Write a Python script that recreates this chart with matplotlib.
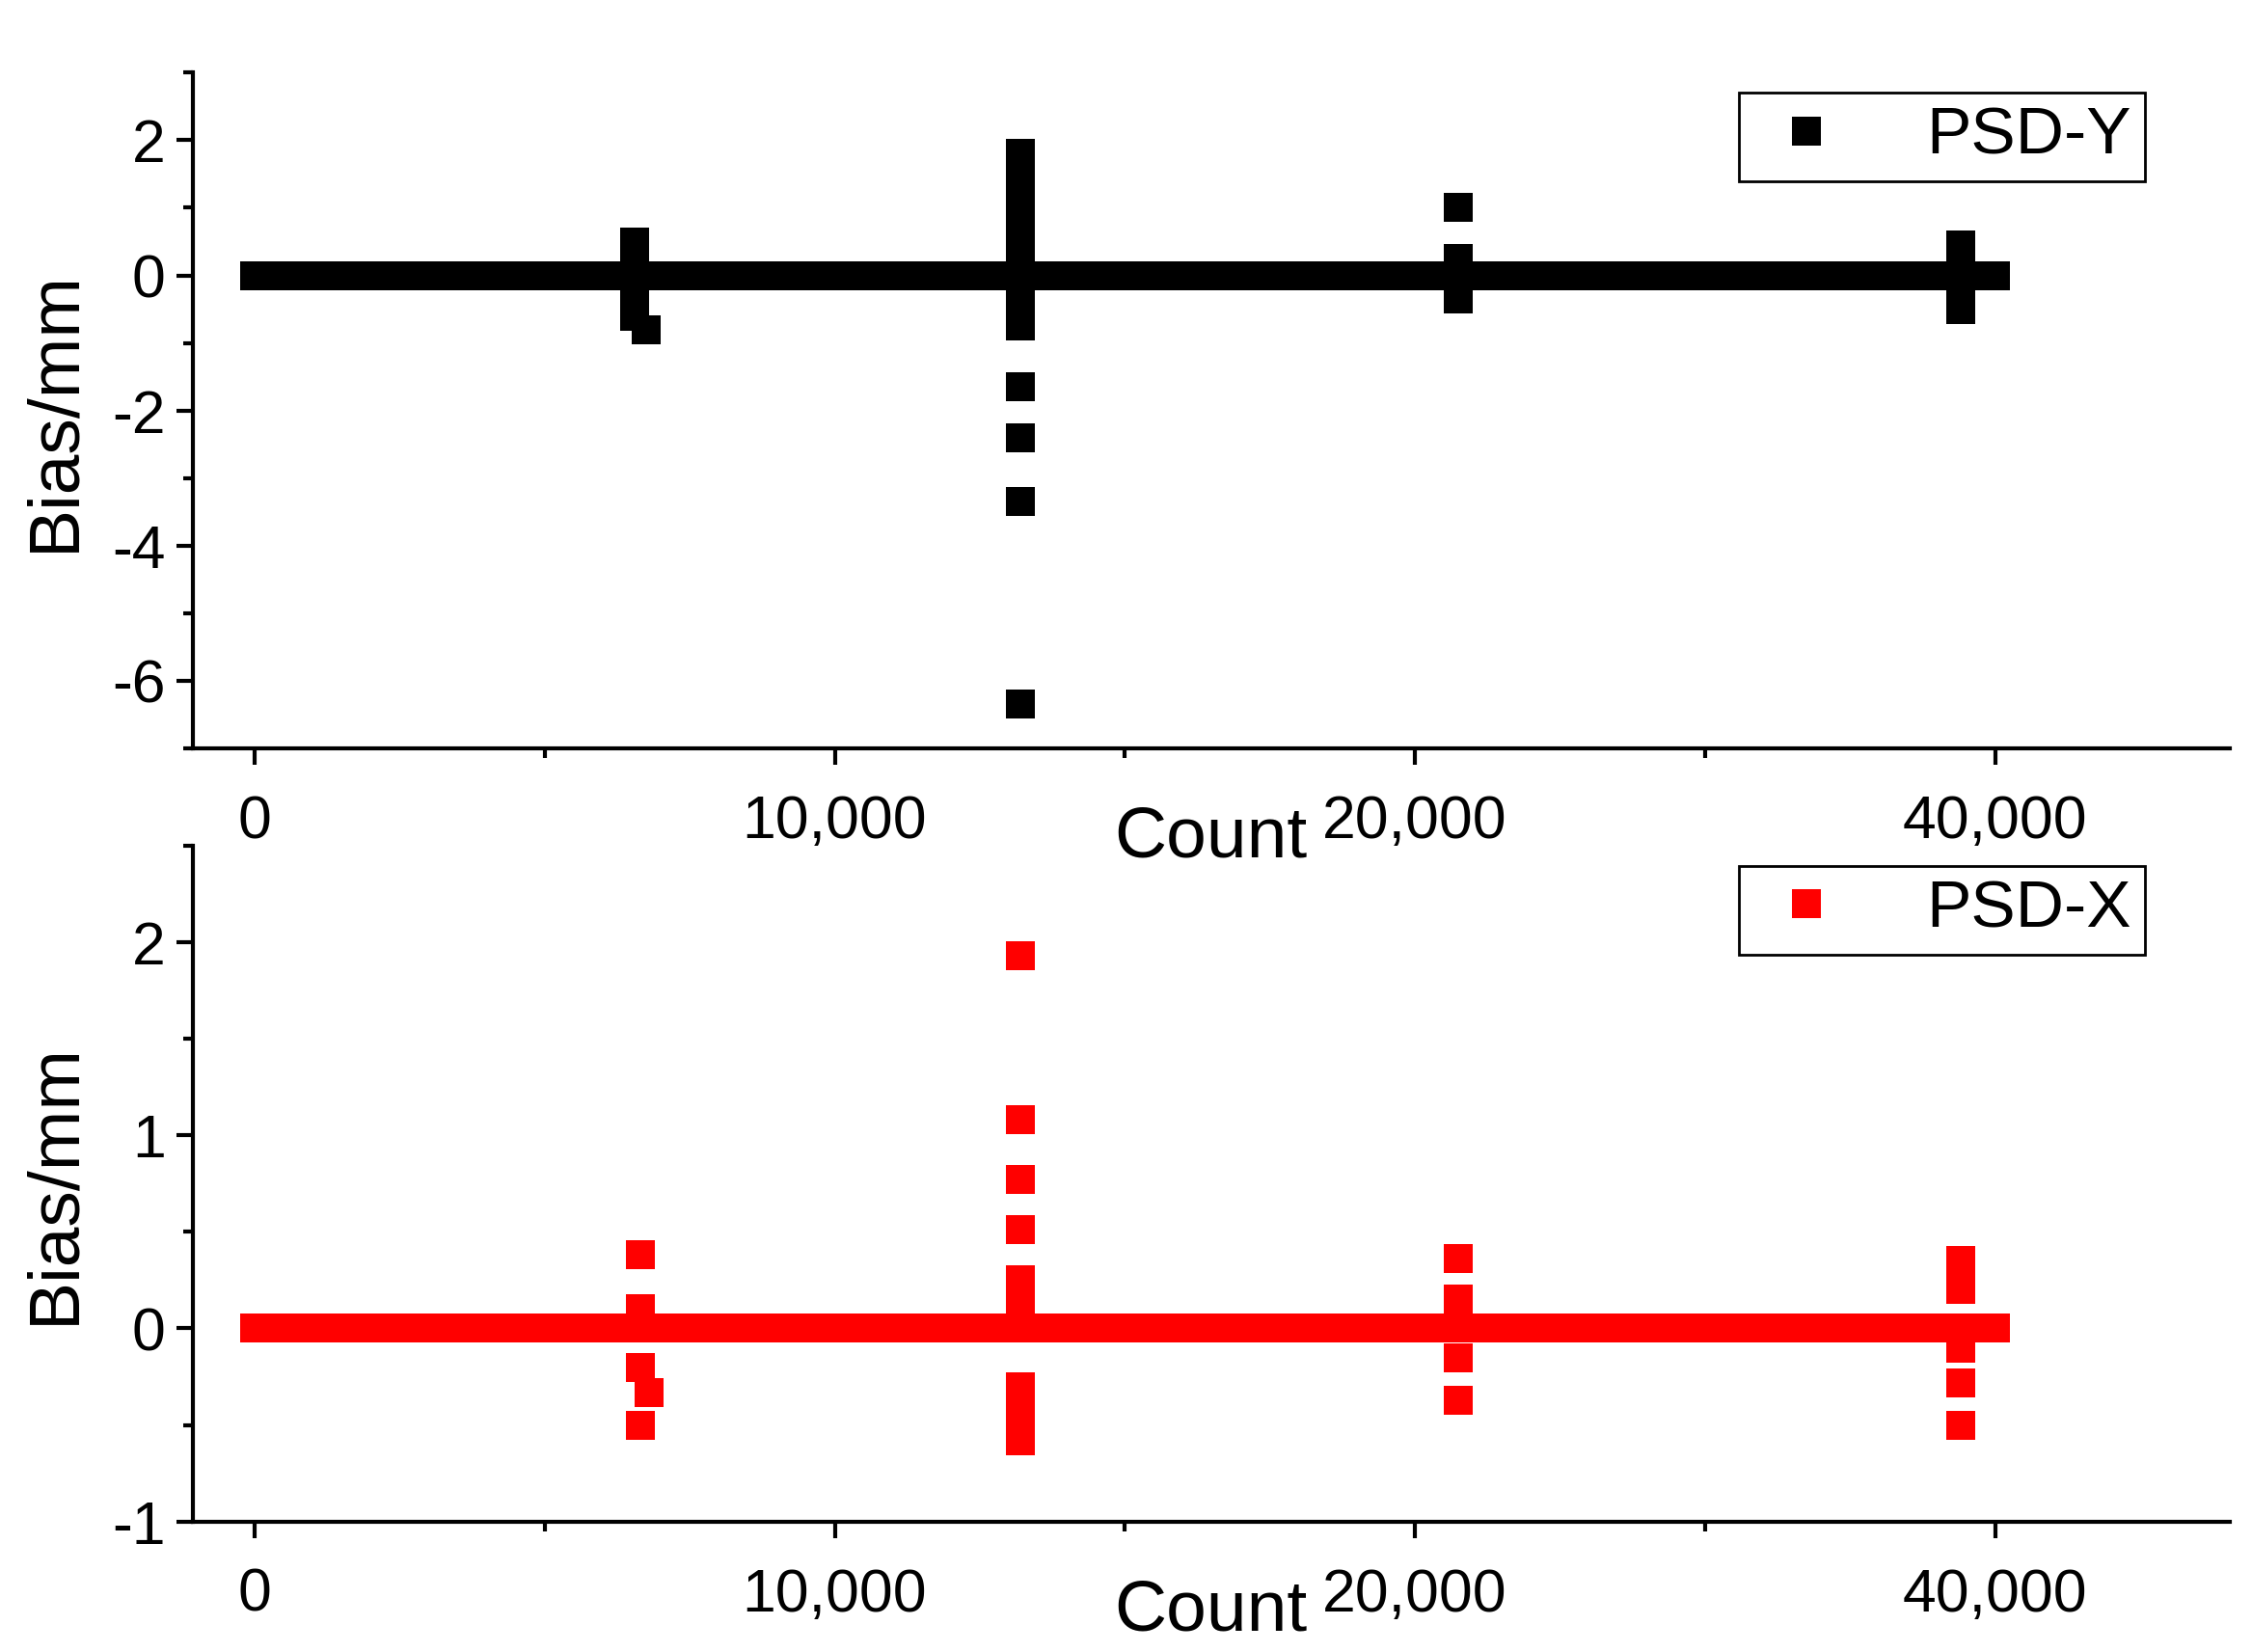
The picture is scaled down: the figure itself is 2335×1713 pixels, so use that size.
import numpy as np
import matplotlib
matplotlib.use("Agg")
import matplotlib.pyplot as plt
from matplotlib.ticker import MultipleLocator

plt.rcParams['font.family'] = ['Liberation Sans', 'DejaVu Sans']
plt.rcParams['axes.unicode_minus'] = False

# sample positions along the count axis (baseline values are ~0)
base_x = list(range(0, 30001, 50))
base_y = [0.0] * len(base_x)

y_spike_x = [6550]*7 + [6750] + [13200]*15 + [20750]*4 + [29400]*4
y_spike_v = [0.5, 0.4, 0.3, 0.2, -0.2, -0.4, -0.6, -0.8,
             1.8, 1.6, 1.3, 1.1, 0.9, 0.6, 0.4, 0.2, -0.2, -0.5, -0.75, -1.65, -2.4, -3.35, -6.35,
             1.0, 0.25, -0.2, -0.35,
             0.45, 0.3, -0.3, -0.5]

x_spike_x = [6650]*4 + [6800] + [13200]*10 + [20750]*4 + [29400]*6
x_spike_v = [0.38, 0.1, -0.2, -0.5, -0.33,
             1.93, 1.08, 0.77, 0.51, 0.25, 0.15, -0.3, -0.4, -0.52, -0.58,
             0.36, 0.15, -0.15, -0.37,
             0.35, 0.3, 0.2, -0.1, -0.28, -0.5]

tick_pos = [0, 10000, 20000, 30000]
tick_lab = ["0", "10,000", "20,000", "40,000"]

fig = plt.figure(figsize=(23.35, 17.13), dpi=100)
ax1 = fig.add_axes([0.0855, 0.547, 0.9045, 0.409])
ax2 = fig.add_axes([0.0855, 0.079, 0.9045, 0.409])
ax1.set_zorder(2)
ax1.patch.set_alpha(0)
ax2.patch.set_alpha(0)

def style(ax, ylim, major, minor):
    ax.set_xlim(-1070, 34040)
    ax.set_ylim(*ylim)
    for s in ['top', 'right']:
        ax.spines[s].set_visible(False)
    for s in ['left', 'bottom']:
        ax.spines[s].set_linewidth(3)
    ax.set_xticks(tick_pos)
    ax.set_xticklabels(tick_lab)
    ax.xaxis.set_minor_locator(MultipleLocator(5000))
    ax.yaxis.set_major_locator(MultipleLocator(major))
    ax.yaxis.set_minor_locator(MultipleLocator(minor))
    ax.tick_params(which='major', direction='out', length=12, width=3, labelsize=45, pad=8)
    ax.tick_params(which='minor', direction='out', length=7, width=3)
    ax.tick_params(axis='x', which='major', pad=22)
    ax.set_ylabel("Bias/mm", fontsize=54, labelpad=18)
    ax.set_xlabel("Count", fontsize=54, labelpad=-34)
    leg = ax.legend(loc='upper right', bbox_to_anchor=(0.975, 1.02), fontsize=50,
                    frameon=True, fancybox=False, edgecolor='black', handletextpad=1.0,
                    handlelength=1.6, borderpad=0.2, framealpha=1)
    leg.get_frame().set_linewidth(2)

ax1.plot(base_x, base_y, 's', color='black', ms=21, mew=0, label='PSD-Y')
ax1.plot(y_spike_x, y_spike_v, 's', color='black', ms=21, mew=0)
ax2.plot(base_x, base_y, 's', color='red', ms=21, mew=0, label='PSD-X')
ax2.plot(x_spike_x, x_spike_v, 's', color='red', ms=21, mew=0)

style(ax1, (-7, 3), 2, 1)
style(ax2, (-1, 2.5), 1, 0.5)

fig.savefig("out.png", dpi=100)
